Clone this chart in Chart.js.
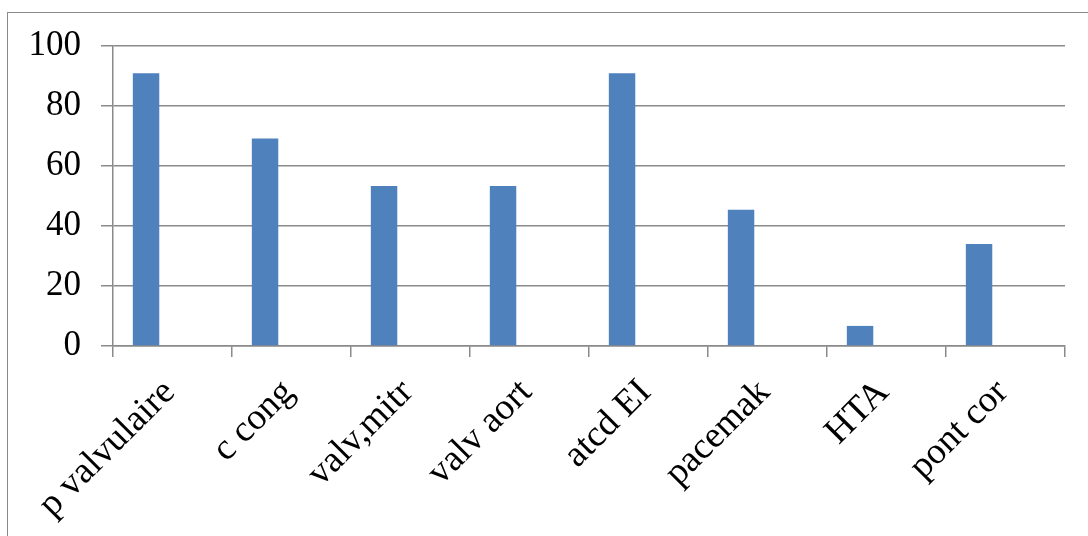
<!DOCTYPE html>
<html>
<head>
<meta charset="utf-8">
<script src="https://cdn.jsdelivr.net/npm/chart.js@4.4.1/dist/chart.umd.min.js"></script>
<style>
  html, body { margin: 0; padding: 0; background: #ffffff; overflow: hidden; }
  #wrap { position: relative; width: 1088px; height: 536px; }
  #frame { position: absolute; left: 7px; top: 12px; width: 1200px; height: 700px;
           border: 1.5px solid #8a8a8a; box-sizing: border-box; }
  #c { position: absolute; left: 0; top: 0; }
</style>
</head>
<body>
<div id="wrap">
  <div id="frame"></div>
  <canvas id="c" width="1088" height="536"></canvas>
</div>
<script>
// Categories and their percentages
const categories = ['p valvulaire', 'c cong', 'valv,mitr', 'valv aort', 'atcd EI', 'pacemak', 'HTA', 'pont cor'];
const values = [90.9, 69.2, 53.3, 53.3, 90.9, 45.4, 6.7, 34];
// Two further series without values keep the bar in the left slot of each group
const emptySeries = [null, null, null, null, null, null, null, null];
const yTicks = [0, 20, 40, 60, 80, 100];

const gridColor = '#8a8a8a';
const family = '"Liberation Serif", "Times New Roman", serif';

new Chart(document.getElementById('c'), {
  type: 'bar',
  data: {
    labels: categories,
    datasets: [
      { data: values, backgroundColor: '#4f81bd', borderWidth: 0 },
      { data: emptySeries, backgroundColor: '#c0504d' },
      { data: emptySeries, backgroundColor: '#9bbb59' }
    ]
  },
  options: {
    responsive: false,
    animation: false,
    devicePixelRatio: 1,
    categoryPercentage: 0.6667,
    barPercentage: 1.0,
    layout: { padding: { left: 0, right: 23, top: 46, bottom: 0 } },
    plugins: { legend: { display: false }, tooltip: { enabled: false } },
    scales: {
      x: {
        afterFit: (s) => { s.height = 190; },
        grid: { display: true, drawOnChartArea: false, drawTicks: true, tickLength: 11,
                color: gridColor, lineWidth: 1.5, offset: true },
        border: { display: true, color: gridColor, width: 1.5 },
        ticks: { color: '#000', font: { family: family, size: 37 }, minRotation: 45, maxRotation: 45,
                 padding: 14, labelOffset: -3, autoSkip: false }
      },
      y: {
        min: 0, max: 100,
        afterFit: (s) => { s.width = 113; },
        afterBuildTicks: (s) => { s.ticks = yTicks.map(v => ({ value: v })); },
        grid: { color: gridColor, lineWidth: 1.5, tickLength: 12, drawTicks: true },
        border: { display: true, color: gridColor, width: 1.5 },
        ticks: { color: '#000', font: { family: family, size: 35 }, padding: 20 }
      }
    }
  }
});
</script>
</body>
</html>
